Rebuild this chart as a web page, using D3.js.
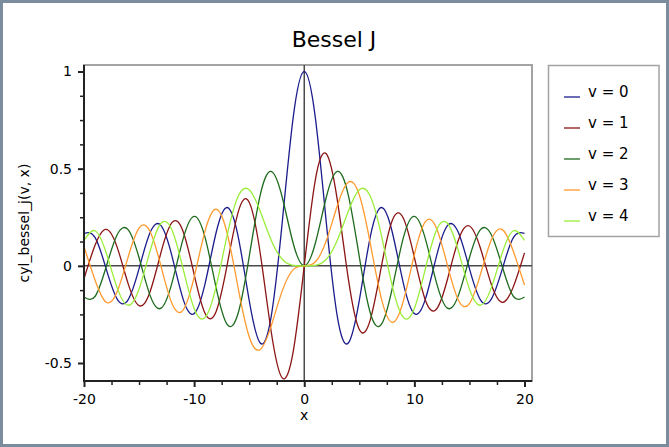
<!DOCTYPE html>
<html>
<head>
<meta charset="utf-8">
<script src="https://cdn.jsdelivr.net/npm/d3@7"></script>
<style>
  html, body { margin: 0; padding: 0; background: #ffffff; }
  svg { display: block; }
  text { font-family: "DejaVu Sans", Verdana, sans-serif; fill: #000; }
</style>
</head>
<body>
<svg id="chart" width="669" height="447"></svg>
<script>
// ---- data ----
const xValues = [-20,-19,-18,-17,-16,-15,-14,-13,-12,-11,-10,-9,-8,-7,-6,-5,-4,-3,-2,-1,0,1,2,3,4,5,6,7,8,9,10,11,12,13,14,15,16,17,18,19,20];
const seriesNames = ["v = 0", "v = 1", "v = 2", "v = 3", "v = 4"];
const seriesColors = ["#1c1c8c", "#8b1414", "#1e6b1e", "#ff9a2e", "#9aee3a"];
const j0 = [0.16702,0.14662,-0.01336,-0.16985,-0.17490,-0.01422,0.17107,0.20693,0.04769,-0.17119,-0.24594,-0.09033,0.17165,0.30008,0.15065,-0.17760,-0.39715,-0.26005,0.22389,0.76520,1.00000,0.76520,0.22389,-0.26005,-0.39715,-0.17760,0.15065,0.30008,0.17165,-0.09033,-0.24594,-0.17119,0.04769,0.20693,0.17107,-0.01422,-0.17490,-0.16985,-0.01336,0.14662,0.16702];
const j1 = [-0.06683,0.10570,0.18799,0.09767,-0.09040,-0.20510,-0.13338,0.07032,0.22345,0.17679,-0.04347,-0.24531,-0.23464,0.00468,0.27668,0.32758,0.06604,-0.33906,-0.57672,-0.44005,0,0.44005,0.57672,0.33906,-0.06604,-0.32758,-0.27668,-0.00468,0.23464,0.24531,0.04347,-0.17679,-0.22345,-0.07032,0.13338,0.20510,0.09040,-0.09767,-0.18799,-0.10570,0.06683];
const j2 = [-0.16034,-0.15775,-0.00753,0.15836,0.18620,0.04157,-0.15202,-0.21775,-0.08493,0.13905,0.25463,0.14484,-0.11299,-0.30142,-0.24288,0.04657,0.36413,0.48609,0.35283,0.11490,0,0.11490,0.35283,0.48609,0.36413,0.04657,-0.24288,-0.30142,-0.11299,0.14484,0.25463,0.13905,-0.08493,-0.21775,-0.15202,0.04157,0.18620,0.15836,-0.00753,-0.15775,-0.16034];
const j3 = [0.09890,-0.07249,-0.18632,-0.13493,0.04385,0.19401,0.17681,-0.00332,-0.19514,-0.22735,-0.05838,0.18093,0.29113,0.16756,-0.11477,-0.36483,-0.43017,-0.30906,-0.12894,-0.01956,0,0.01956,0.12894,0.30906,0.43017,0.36483,0.11477,-0.16756,-0.29113,-0.18093,0.05838,0.22735,0.19514,0.00332,-0.17681,-0.19401,-0.04385,0.13493,0.18632,0.07249,-0.09890];
const j4 = [0.13067,0.18064,0.06964,-0.11074,-0.20264,-0.11917,0.07624,0.21928,0.18250,-0.01504,-0.21960,-0.26546,-0.10536,0.15780,0.35764,0.39123,0.28113,0.13203,0.03400,0.00248,0,0.00248,0.03400,0.13203,0.28113,0.39123,0.35764,0.15780,-0.10536,-0.26546,-0.21960,-0.01504,0.18250,0.21928,0.07624,-0.11917,-0.20264,-0.11074,0.06964,0.18064,0.13067];
const xTickValues = [-20, -10, 0, 10, 20];
const xTickLabels = ["-20", "-10", "0", "10", "20"];
const yTickValues = [-0.5, 0, 0.5, 1];
const yTickLabels = ["-0.5", "0", "0.5", "1"];
const xMinorTicks = [-17.5,-15,-12.5,-7.5,-5,-2.5,2.5,5,7.5,12.5,15,17.5];
const yMinorTicks = [-0.375,-0.25,-0.125,0.125,0.25,0.375,0.625,0.75,0.875];
const titleText = "Bessel J";
const xLabel = "x";
const yLabel = "cyl_bessel_j(v, x)";

const allSeries = [j0, j1, j2, j3, j4];

// ---- layout ----
const W = 669, H = 447;
const plot = { left: 84, right: 532, top: 65, bottom: 381 };
const svg = d3.select("#chart");

const x = d3.scaleLinear().domain([-20, 20]).range([84, 524.5]);
const y = d3.scaleLinear().domain([-0.5, 1]).range([363, 71.5]);

// outer border
svg.append("rect").attr("x", 1.5).attr("y", 1.5).attr("width", W - 3).attr("height", H - 3)
  .attr("fill", "#ffffff").attr("stroke", "#7b8c9d").attr("stroke-width", 3);

// title
svg.append("text").attr("x", 334).attr("y", 47).attr("text-anchor", "middle")
  .style("font-size", "22px").text(titleText);

// plot frame (light top/right)
svg.append("rect").attr("x", plot.left).attr("y", plot.top)
  .attr("width", plot.right - plot.left).attr("height", plot.bottom - plot.top)
  .attr("fill", "#ffffff").attr("stroke", "#a3a3a3").attr("stroke-width", 2);

// zero lines
svg.append("line").attr("x1", plot.left).attr("x2", plot.right)
  .attr("y1", y(0)).attr("y2", y(0)).attr("stroke", "#4a4a4a").attr("stroke-width", 1.5);
svg.append("line").attr("x1", x(0)).attr("x2", x(0))
  .attr("y1", plot.top).attr("y2", plot.bottom).attr("stroke", "#4a4a4a").attr("stroke-width", 1.5);

// curves
const line = d3.line()
  .x((d, i) => x(xValues[i]))
  .y(d => y(d))
  .curve(d3.curveNatural);

const curves = svg.append("g");
allSeries.forEach((s, k) => {
  curves.append("path").attr("d", line(s)).attr("fill", "none")
    .attr("stroke", seriesColors[k]).attr("stroke-width", 1.3);
});

// axes lines (dark left & bottom)
svg.append("line").attr("x1", plot.left).attr("x2", plot.left)
  .attr("y1", plot.top).attr("y2", plot.bottom + 1).attr("stroke", "#222").attr("stroke-width", 2);
svg.append("line").attr("x1", plot.left - 1).attr("x2", plot.right)
  .attr("y1", plot.bottom).attr("y2", plot.bottom).attr("stroke", "#222").attr("stroke-width", 2);

// x axis ticks
const xAxisG = svg.append("g").attr("transform", `translate(0,${plot.bottom})`);
xAxisG.call(d3.axisBottom(x).tickValues(xTickValues).tickSize(6).tickPadding(7)
  .tickFormat((d, i) => xTickLabels[i]));
xAxisG.select(".domain").remove();
xAxisG.selectAll(".tick line").attr("stroke", "#222").attr("stroke-width", 2);
xAxisG.selectAll(".tick text").style("font-size", "14px").style("font-family", "DejaVu Sans, Verdana, sans-serif").attr("fill", "#000");

const xMinorG = svg.append("g").attr("transform", `translate(0,${plot.bottom})`);
xMinorG.call(d3.axisBottom(x).tickValues(xMinorTicks).tickSize(4).tickFormat(""));
xMinorG.select(".domain").remove();
xMinorG.selectAll(".tick line").attr("stroke", "#222").attr("stroke-width", 1.5);

// y axis ticks
const yAxisG = svg.append("g").attr("transform", `translate(${plot.left},0)`);
yAxisG.call(d3.axisLeft(y).tickValues(yTickValues).tickSize(6).tickPadding(6)
  .tickFormat((d, i) => yTickLabels[i]));
yAxisG.select(".domain").remove();
yAxisG.selectAll(".tick line").attr("stroke", "#222").attr("stroke-width", 2);
yAxisG.selectAll(".tick text").style("font-size", "14px").style("font-family", "DejaVu Sans, Verdana, sans-serif").attr("fill", "#000");

const yMinorG = svg.append("g").attr("transform", `translate(${plot.left},0)`);
yMinorG.call(d3.axisLeft(y).tickValues(yMinorTicks).tickSize(4).tickFormat(""));
yMinorG.select(".domain").remove();
yMinorG.selectAll(".tick line").attr("stroke", "#222").attr("stroke-width", 1.5);

// axis labels
svg.append("text").attr("x", x(0)).attr("y", 420).attr("text-anchor", "middle")
  .style("font-size", "14px").text(xLabel);
svg.append("text").attr("transform", `translate(29,${(plot.top + plot.bottom) / 2}) rotate(-90)`)
  .attr("text-anchor", "middle").style("font-size", "14px").text(yLabel);

// legend
const legend = svg.append("g");
legend.append("rect").attr("x", 548.5).attr("y", 65.5).attr("width", 110.5).attr("height", 171)
  .attr("fill", "#ffffff").attr("stroke", "#a3a3a3").attr("stroke-width", 1.5);
seriesNames.forEach((name, k) => {
  const yy = 97 + k * 31;
  legend.append("line").attr("x1", 564).attr("x2", 580).attr("y1", yy).attr("y2", yy)
    .attr("stroke", seriesColors[k]).attr("stroke-width", 1.3);
  legend.append("text").attr("x", 588).attr("y", yy).style("font-size", "15px").text(name);
});
</script>
</body>
</html>
